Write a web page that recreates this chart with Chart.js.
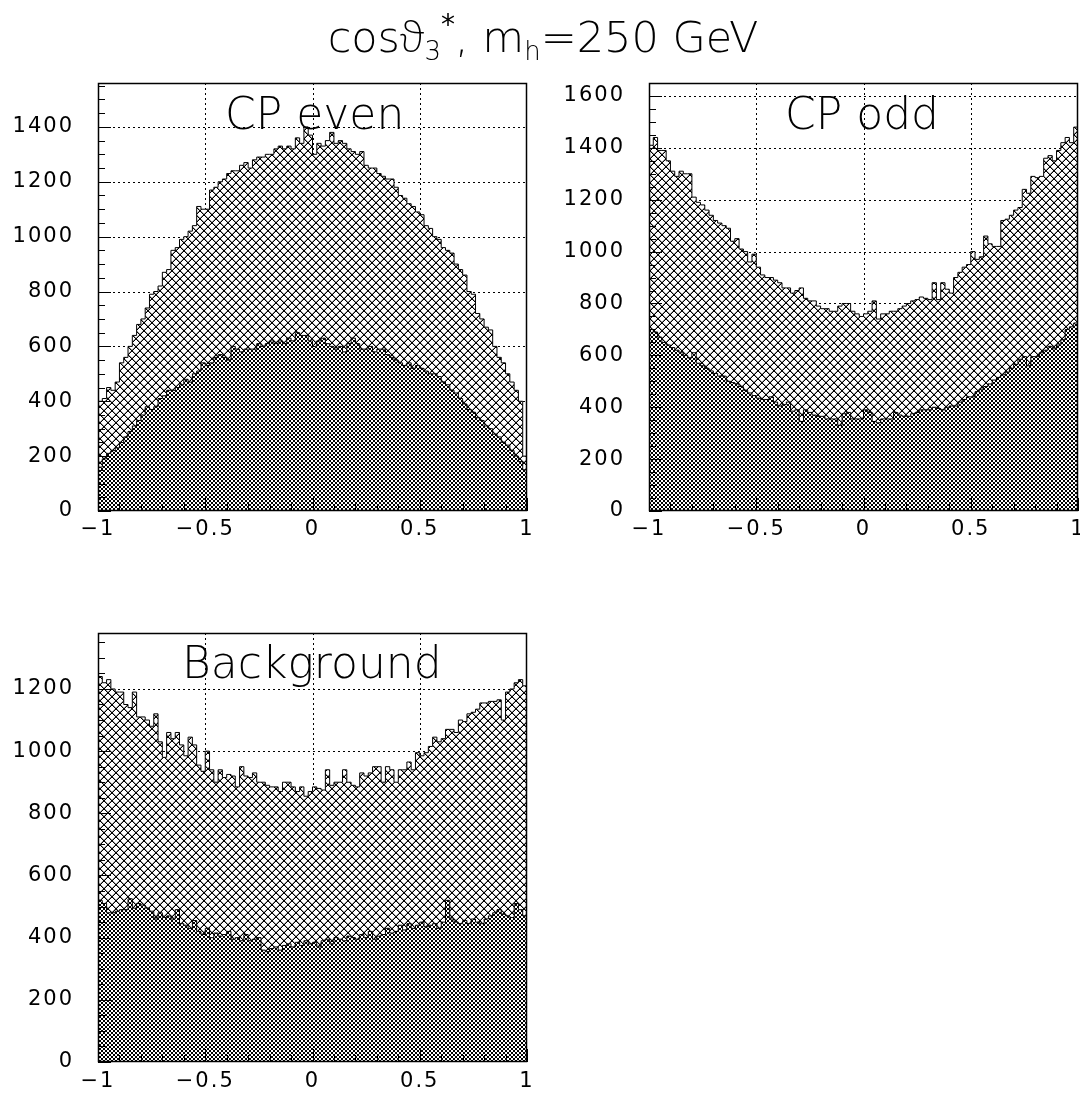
<!DOCTYPE html>
<html><head><meta charset="utf-8">
<script src="https://cdn.jsdelivr.net/npm/chart.js@4.4.1/dist/chart.umd.min.js"></script>
<style>
html,body{margin:0;padding:0;background:#fff;overflow:hidden;width:1080px;height:1093px;}
canvas{position:absolute;z-index:1;}
.lbl{position:absolute;z-index:2;font-family:"DejaVu Sans ExtraLight","DejaVu Sans";font-weight:200;font-size:44px;line-height:44px;white-space:nowrap;color:#000;}
#title{position:absolute;z-index:2;left:0;top:14px;width:1086px;text-align:center;font-family:"DejaVu Sans ExtraLight","DejaVu Sans";font-weight:200;font-size:43px;line-height:43px;white-space:nowrap;color:#000;}
.th{font-family:"Noto Sans","DejaVu Sans";font-weight:200;}
.sb{position:relative;font-size:26px;top:8px;}
.sp{position:relative;font-size:28px;top:-18px;font-family:"DejaVu Sans";font-weight:normal;}
</style></head><body>
<div id="title">cos<span class="th">&#977;</span><span class="sb">3</span><span class="sp">*</span>, m<span class="sb">h</span>=250 GeV</div>
<div class="lbl" style="left:225px;top:92px">CP even</div>
<div class="lbl" style="left:785px;top:92px">CP odd</div>
<div class="lbl" style="left:182px;top:641px">Background</div>
<canvas id="c1" width="545" height="507" style="left:0;top:43px"></canvas>
<canvas id="c2" width="560" height="507" style="left:550px;top:43px"></canvas>
<canvas id="c3" width="545" height="509" style="left:0;top:593px"></canvas>
<script>
// ---- binning & ticks ----
const xMin = -1, xMax = 1, nBins = 100;
const xTickValues = [-1, -0.5, 0, 0.5, 1];
const xTickLabels = ['\u22121', '\u22120.5', '0', '0.5', '1'];
const yTicksEven = [0, 200, 400, 600, 800, 1000, 1200, 1400];
const yTicksOdd = [0, 200, 400, 600, 800, 1000, 1200, 1400, 1600];
const yTicksBkg = [0, 200, 400, 600, 800, 1000, 1200];

// ---- CP even ----
const cpEvenUpper = [400,410,450,440,470,540,560,600,640,680,
 700,740,790,800,820,870,880,950,960,990,
 1000,1020,1040,1110,1100,1100,1170,1180,1200,1210,
 1230,1240,1240,1260,1270,1250,1280,1290,1290,1300,
 1300,1320,1330,1320,1330,1320,1360,1340,1400,1370,
 1300,1340,1330,1350,1380,1340,1350,1340,1320,1310,
 1300,1310,1260,1250,1250,1230,1220,1210,1210,1180,
 1150,1140,1120,1110,1090,1080,1040,1030,1000,990,
 960,950,940,900,880,860,800,790,720,700,
 670,660,600,560,540,500,470,440,400,200];
const cpEvenLower = [160,190,210,220,230,250,270,290,310,330,
 350,380,370,380,410,420,440,440,450,460,
 480,470,500,510,540,530,540,560,570,560,
 550,600,590,580,590,590,590,610,600,610,
 620,610,620,610,630,620,650,640,640,620,
 600,620,630,610,600,590,600,580,610,630,
 610,590,590,600,580,590,590,570,560,550,
 540,530,540,520,530,520,510,500,500,490,
 470,460,440,430,410,390,370,360,340,330,
 310,300,280,270,250,240,220,200,180,150];

// ---- CP odd ----
const cpOddUpper = [1410,1440,1390,1390,1350,1310,1290,1310,1300,1300,
 1210,1190,1180,1160,1140,1120,1110,1100,1090,1040,
 1050,1010,1000,960,990,940,910,900,900,890,
 880,860,860,840,850,860,820,810,810,790,
 780,780,770,770,790,800,800,770,760,750,
 760,770,810,740,760,760,770,770,780,790,
 800,810,815,825,820,815,880,815,880,855,
 840,900,920,940,950,1000,970,980,1060,1030,
 1020,1020,1120,1125,1140,1160,1170,1240,1225,1290,
 1285,1290,1360,1370,1350,1390,1420,1440,1420,1480];
const cpOddLower = [700,690,670,650,640,630,620,610,600,590,
 610,570,560,550,540,530,520,520,500,495,
 490,480,465,455,445,435,430,430,440,420,
 405,410,420,385,390,345,390,380,370,365,
 365,355,355,355,330,375,380,355,355,355,
 390,380,345,340,355,355,355,380,370,365,
 365,375,380,390,390,390,400,395,390,400,
 405,405,420,430,440,440,460,470,480,490,
 505,515,525,535,550,565,585,595,560,595,
 595,610,620,635,625,640,660,700,710,725];

// ---- Background ----
const bkgUpper = [1240,1220,1230,1200,1190,1190,1150,1140,1190,1110,
 1110,1100,1080,1120,1030,980,1060,1040,1060,1020,
 985,1045,1020,955,935,1000,940,900,940,915,
 925,920,885,950,920,915,930,900,900,890,
 885,885,870,900,900,885,870,885,855,870,
 885,880,875,940,890,900,900,940,900,890,
 885,930,920,930,950,950,900,950,940,900,
 940,940,965,940,995,985,995,1015,1045,1030,
 1040,1070,1070,1060,1100,1095,1120,1125,1135,1155,
 1155,1160,1160,1165,1100,1190,1200,1220,1230,1210];
const bkgLower = [520,510,480,480,485,490,490,525,495,510,
 505,495,485,460,480,465,470,460,490,445,
 440,430,455,420,410,430,400,415,405,410,
 420,395,400,390,410,390,395,400,360,355,
 365,370,360,375,380,370,385,375,390,380,
 385,370,390,395,380,400,395,390,405,400,
 395,410,400,420,395,405,410,430,415,420,
 440,425,445,430,440,450,435,440,445,430,
 450,520,460,450,445,455,445,460,450,445,
 460,470,480,490,475,470,465,510,490,470];

const binEdges = Array.from({length: nBins + 1}, (_, i) => xMin + i * (xMax - xMin) / nBins);
function toSteps(vals) {
  const pts = vals.map((v, i) => ({x: binEdges[i], y: v}));
  pts.push({x: binEdges[nBins], y: vals[nBins - 1]});
  return pts;
}
function makePattern(size, soft) {
  const c = document.createElement('canvas');
  c.width = c.height = size;
  const g = c.getContext('2d');
  g.fillStyle = '#fff'; g.fillRect(0, 0, size, size);
  for (let i = 0; i < size; i++) {
    if (soft) {
      g.fillStyle = soft;
      g.fillRect((i + 1) % size, i, 1, 1);
      g.fillRect((2 * size - 2 - i) % size, i, 1, 1);
    }
    g.fillStyle = '#000';
    g.fillRect(i, i, 1, 1);
    g.fillRect(size - 1 - i, i, 1, 1);
  }
  return g.createPattern(c, 'repeat');
}
const sparse = makePattern(8, '#9a9a9a');
const dense = makePattern(4, null);

const decor = {
  id: 'decor',
  beforeDraw(chart) { chart.ctx.letterSpacing = '2px'; },
  beforeDatasetsDraw(chart) {
    const {ctx, chartArea: a, scales: {x, y}} = chart;
    ctx.save();
    ctx.strokeStyle = '#000'; ctx.lineWidth = 1; ctx.setLineDash([2, 3]);
    ctx.beginPath();
    y.ticks.forEach(t => {
      if (t.value <= 0) return;
      const py = Math.round(y.getPixelForValue(t.value)) + 0.5;
      ctx.moveTo(a.left, py); ctx.lineTo(a.right, py);
    });
    x.ticks.forEach(t => {
      if (t.value <= x.min || t.value >= x.max) return;
      const px = Math.round(x.getPixelForValue(t.value)) + 0.5;
      ctx.moveTo(px, a.top); ctx.lineTo(px, a.bottom);
    });
    ctx.stroke();
    ctx.restore();
  },
  afterDatasetsDraw(chart) {
    const {ctx, chartArea: a, scales: {x, y}} = chart;
    ctx.save();
    ctx.strokeStyle = '#000'; ctx.lineWidth = 1; ctx.setLineDash([]);
    ctx.beginPath();
    for (let k = 0; k * 50 <= y.max; k++) {
      const py = Math.round(y.getPixelForValue(k * 50)) + 0.5;
      const len = (k % 4 === 0) ? 13 : 7;
      ctx.moveTo(a.left, py); ctx.lineTo(a.left + len, py);
    }
    for (let k = -10; k <= 10; k++) {
      const px = Math.round(x.getPixelForValue(k / 10)) + 0.5;
      const len = (k % 5 === 0) ? 13 : 7;
      ctx.moveTo(px, a.bottom); ctx.lineTo(px, a.bottom - len);
    }
    ctx.stroke();
    ctx.lineWidth = 1.5;
    ctx.strokeRect(a.left + 0.5, a.top + 0.5, a.right - a.left - 1, a.bottom - a.top - 1);
    ctx.restore();
  }
};

function makeChart(id, upper, lower, yMax, yTicks, yAxisW, xAxisH, pad, xPad) {
  return new Chart(document.getElementById(id), {
    type: 'line',
    data: {
      datasets: [
        {data: toSteps(lower), stepped: true, fill: 'origin', backgroundColor: dense,
         borderColor: '#000', borderWidth: 1, pointRadius: 0},
        {data: toSteps(upper), stepped: true, fill: 'origin', backgroundColor: sparse,
         borderColor: '#000', borderWidth: 1, pointRadius: 0}
      ]
    },
    options: {
      responsive: false, animation: false, devicePixelRatio: 1,
      layout: {padding: pad},
      plugins: {legend: {display: false}, tooltip: {enabled: false}, title: {display: false}},
      scales: {
        x: {
          type: 'linear', min: xMin, max: xMax,
          grid: {display: false, drawTicks: false}, border: {display: false},
          afterBuildTicks: (s) => { s.ticks = xTickValues.map(v => ({value: v})); },
          ticks: {
            autoSkip: false, maxRotation: 0, padding: xPad, color: '#000',
            font: {family: 'DejaVu Sans', size: 21},
            callback: (v) => { const k = xTickValues.findIndex(t => Math.abs(t - v) < 1e-9); return k >= 0 ? xTickLabels[k] : ''; }
          },
          afterFit: (s) => { s.height = xAxisH; }
        },
        y: {
          type: 'linear', min: 0, max: yMax,
          grid: {display: false, drawTicks: false}, border: {display: false},
          afterBuildTicks: (s) => { s.ticks = yTicks.map(v => ({value: v})); },
          ticks: {autoSkip: false, padding: 24, color: '#000',
                  font: {family: 'DejaVu Sans', size: 21},
                  callback: (v) => String(v)},
          afterFit: (s) => { s.width = yAxisW; }
        }
      }
    },
    plugins: [decor]
  });
}

makeChart('c1', cpEvenUpper, cpEvenLower, 1560, yTicksEven, 98, 39, {left: 0, top: 40, right: 18, bottom: 0}, 6);
makeChart('c2', cpOddUpper, cpOddLower, 1650, yTicksOdd, 99, 39, {left: 0, top: 40, right: 32, bottom: 0}, 6);
makeChart('c3', bkgUpper, bkgLower, 1380, yTicksBkg, 98, 40, {left: 0, top: 40, right: 18, bottom: 0}, 7);
</script>
</body></html>
